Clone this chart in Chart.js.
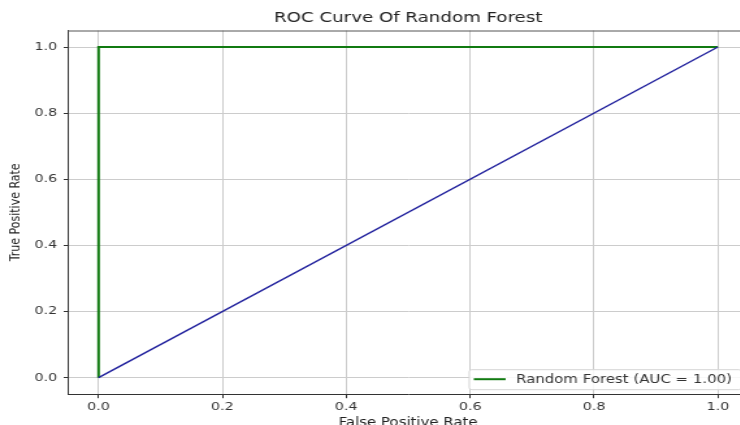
<!DOCTYPE html>
<html>
<head>
<meta charset="utf-8">
<script src="https://cdn.jsdelivr.net/npm/chart.js@4.4.1/dist/chart.umd.min.js"></script>
<style>
html,body{margin:0;padding:0;overflow:hidden;background:#fff;width:740px;height:425px;}
#wrap{position:absolute;left:0;top:0;width:628px;height:432px;transform:scaleX(1.3);transform-origin:0 0;}
canvas{display:block;}
</style>
</head>
<body>
<div id="wrap"><canvas id="c" width="628" height="432"></canvas></div>
<script>
// ---- data ----
const chartTitle = "ROC Curve Of Random Forest";
const xTitle = "False Positive Rate";
const yTitle = "True Positive Rate";
const rfLabel = "Random Forest (AUC = 1.00)";
const rfFpr = [0, 0, 1];
const rfTpr = [0, 1, 1];
const chanceFpr = [0, 1];
const chanceTpr = [0, 1];
const tickValues = [0, 0.2, 0.4, 0.6, 0.8, 1.0];
const axisMin = -0.05;
const axisMax = 1.05;

const FONT = "'DejaVu Sans', 'Liberation Sans', sans-serif";
const rfColor = '#117a11';
const chanceColor = '#1f1f9c';

const toPts = (xs, ys) => xs.map((x, i) => ({x: x, y: ys[i]}));

const setTicks = (axis) => { axis.ticks = tickValues.map(v => ({value: v})); };

const frameAndLegend = {
  id: 'frameAndLegend',
  afterDraw(chart) {
    const ctx = chart.ctx;
    const a = chart.chartArea;
    // top spine
    ctx.save();
    ctx.strokeStyle = '#555';
    ctx.lineWidth = 1;
    ctx.beginPath();
    ctx.moveTo(a.left, a.top + 0.5);
    ctx.lineTo(a.right, a.top + 0.5);
    ctx.stroke();
    // legend
    const items = chart.data.datasets.filter(d => d.label);
    ctx.font = '11.5px ' + FONT;
    const padL = 4, lineLen = 24.5, gap = 8, padR = 7, h = 20;
    let maxW = 0;
    items.forEach(d => { maxW = Math.max(maxW, ctx.measureText(d.label).width); });
    const w = padL + lineLen + gap + maxW + padR;
    const right = a.right - 6;
    const bottom = a.bottom - 5;
    const left = right - w;
    const top = bottom - h * items.length;
    ctx.fillStyle = 'rgba(255,255,255,0.85)';
    ctx.strokeStyle = '#d6d6d6';
    ctx.lineWidth = 1;
    ctx.beginPath();
    if (ctx.roundRect) ctx.roundRect(left + 0.5, top + 0.5, w, h * items.length, 2);
    else ctx.rect(left + 0.5, top + 0.5, w, h * items.length);
    ctx.fill();
    ctx.stroke();
    items.forEach((d, i) => {
      const cy = top + h * i + h / 2;
      ctx.strokeStyle = d.borderColor;
      ctx.lineWidth = d.borderWidth;
      ctx.beginPath();
      ctx.moveTo(left + padL, cy);
      ctx.lineTo(left + padL + lineLen, cy);
      ctx.stroke();
      ctx.fillStyle = '#333';
      ctx.textBaseline = 'middle';
      ctx.textAlign = 'left';
      ctx.fillText(d.label, left + padL + lineLen + gap, cy + 0.5);
    });
    ctx.restore();
  }
};

new Chart(document.getElementById('c'), {
  type: 'scatter',
  data: {
    datasets: [
      {
        label: rfLabel,
        data: toPts(rfFpr, rfTpr),
        showLine: true,
        borderColor: rfColor,
        backgroundColor: rfColor,
        borderWidth: 2,
        pointRadius: 0,
        tension: 0,
        order: 1
      },
      {
        label: '',
        data: toPts(chanceFpr, chanceTpr),
        showLine: true,
        borderColor: chanceColor,
        backgroundColor: chanceColor,
        borderWidth: 1.4,
        pointRadius: 0,
        tension: 0,
        order: 0
      }
    ]
  },
  options: {
    responsive: false,
    devicePixelRatio: 1,
    animation: false,
    layout: {padding: 0},
    plugins: {
      legend: {display: false},
      tooltip: {enabled: false},
      title: {
        display: true,
        text: chartTitle,
        color: '#222',
        font: {family: FONT, size: 14, weight: 'normal', lineHeight: 1.2},
        padding: {top: 9.6, bottom: 4.1}
      }
    },
    scales: {
      x: {
        type: 'linear',
        min: axisMin,
        max: axisMax,
        afterBuildTicks: setTicks,
        afterFit: (s) => { s.height = 37.8; },
        grid: {color: '#cccccc', lineWidth: 1, tickLength: 4, tickColor: '#333', drawTicks: true},
        border: {display: true, color: '#333', width: 1},
        ticks: {
          color: '#333',
          padding: 2,
          maxRotation: 0,
          autoSkip: false,
          font: {family: FONT, size: 11},
          callback: (v) => Number(v).toFixed(1)
        },
        title: {
          display: true,
          text: xTitle,
          color: '#222',
          font: {family: FONT, size: 11.5},
          padding: {top: 0, bottom: 2}
        }
      },
      y: {
        type: 'linear',
        position: 'left',
        min: axisMin,
        max: axisMax,
        afterBuildTicks: setTicks,
        afterFit: (s) => { s.width = 52; },
        grid: {color: '#cccccc', lineWidth: 1, tickLength: 3, tickColor: '#333', drawTicks: true},
        border: {display: true, color: '#333', width: 1},
        ticks: {
          color: '#333',
          padding: 5,
          autoSkip: false,
          font: {family: FONT, size: 11},
          callback: (v) => Number(v).toFixed(1)
        },
        title: {
          display: true,
          text: yTitle,
          color: '#222',
          font: {family: FONT, size: 11},
          padding: {top: 6, bottom: 0}
        }
      },
      y2: {
        type: 'linear',
        position: 'right',
        display: true,
        afterFit: (s) => { s.width = 52; },
        grid: {display: false, drawTicks: false},
        border: {display: false},
        ticks: {display: false}
      }
    }
  },
  plugins: [frameAndLegend]
});
</script>
</body>
</html>
